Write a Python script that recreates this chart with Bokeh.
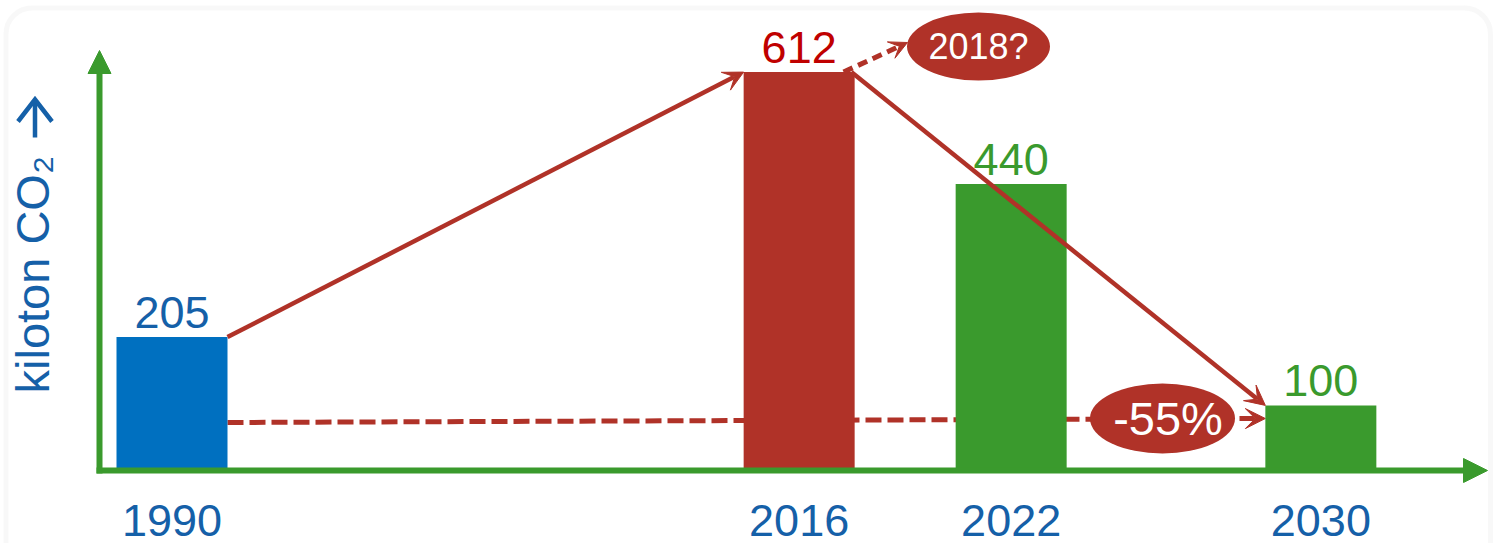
import math
from bokeh.plotting import figure
from bokeh.models import Range1d, Arrow, NormalHead, VeeHead, BoxAnnotation
from bokeh.core.properties import value
from bokeh.embed import file_html
from bokeh.resources import INLINE

# ---------------- data ----------------
years = ["1990", "2016", "2022", "2030"]
emissions = [205, 612, 440, 100]
bar_colors = ["#0070C0", "#B03228", "#3A9A2D", "#3A9A2D"]
value_colors = ["#1560A8", "#C00000", "#3A9A2D", "#3A9A2D"]
reduction_label = "-55%"
question_label = "2018?"
y_title = "kiloton CO\u2082"

# ---------------- layout ----------------
slots = [0.0, 5.65, 7.56, 10.35]      # horizontal bar slots (bar width = 1)
BAR_W = 1.0
W, H = 1493, 543
PX_SLOT = 111.0                        # pixels per slot
PX_UNIT = 0.651                        # pixels per kiloton
ORIG_X, ORIG_Y = 171.5, 470.0          # page position of (slot 0, value 0)
PAGE_OFF = 0.0
BASE_FIX = 0.4                         # em shift of the alphabetic baseline in rendering

def dx(px):   # page px -> slot units
    return (px - ORIG_X) / PX_SLOT

def dy(py):   # page px -> kiloton units
    return (ORIG_Y - py) / PX_UNIT

BLUE = "#1560A8"
RED = "#B03228"
GREEN = "#3A9A2D"
FONT = value("Liberation Sans")

p = figure(width=W, height=H,
           x_range=Range1d(dx(PAGE_OFF), dx(PAGE_OFF + W)),
           y_range=Range1d(dy(PAGE_OFF + H), dy(PAGE_OFF)),
           output_backend="svg", toolbar_location=None,
           x_axis_location=None, y_axis_location=None, min_border=0)
p.xgrid.visible = False
p.ygrid.visible = False
p.outline_line_color = None
p.background_fill_color = "white"
p.border_fill_color = "white"

# rounded border box
p.add_layout(BoxAnnotation(left=dx(5.5), right=dx(1490), top=dy(7.5), bottom=dy(570),
                           fill_alpha=0, line_color="#E8E9E8", line_width=5,
                           border_radius=26, level="underlay"))

half = BAR_W / 2

# reduction dashed arrow (behind bars and bubble)
p.add_layout(Arrow(x_start=slots[0] + half, y_start=dy(422),
                   x_end=slots[3] - half, y_end=dy(418),
                   line_color=RED, line_width=5, line_dash="16 6", level="underlay",
                   end=VeeHead(size=20, fill_color=RED, line_color=RED, line_width=1)))

# bars
p.vbar(x=slots, top=emissions, bottom=0, width=BAR_W, fill_color=bar_colors, line_color=None)

# value labels
p.text(x=slots, y=emissions, text=[str(v) for v in emissions], text_align="center",
       text_baseline="alphabetic", y_offset=-7 - BASE_FIX * 45, text_font=FONT,
       text_font_size="45px", text_color=value_colors)

# year labels
p.text(x=slots, y=[0] * len(slots), text=years, text_align="center",
       text_baseline="alphabetic", y_offset=68 - BASE_FIX * 45, text_font=FONT,
       text_font_size="45px", text_color=BLUE)

# y title (rotated) + drawn arrow
p.text(x=[dx(52 - BASE_FIX * 50)], y=[dy(393)], text=[y_title], angle=math.pi / 2,
       text_align="left", text_baseline="alphabetic", text_font=FONT,
       text_font_size="47px", text_color=BLUE)
ax_c = 34.5
p.multi_line(xs=[[dx(ax_c), dx(ax_c)], [dx(ax_c - 17), dx(ax_c), dx(ax_c + 17)]],
             ys=[[dy(137), dy(100)], [dy(121), dy(99), dy(121)]],
             line_color=BLUE, line_width=4.5, line_join="miter")

# axes with arrows
p.add_layout(Arrow(x_start=dx(96), y_start=0, x_end=dx(1487), y_end=0,
                   line_color=GREEN, line_width=6,
                   end=NormalHead(size=24, fill_color=GREEN, line_color=GREEN, line_width=1)))
p.add_layout(Arrow(x_start=dx(99), y_start=dy(473), x_end=dx(99), y_end=dy(50),
                   line_color=GREEN, line_width=6,
                   end=NormalHead(size=23, fill_color=GREEN, line_color=GREEN, line_width=1)))

# trend arrows
p.add_layout(Arrow(x_start=slots[0] + half, y_start=emissions[0],
                   x_end=slots[1] - half, y_end=emissions[1],
                   line_color=RED, line_width=4.5,
                   end=VeeHead(size=20, fill_color=RED, line_color=RED, line_width=1)))
p.add_layout(Arrow(x_start=slots[1] + half - 0.03, y_start=emissions[1],
                   x_end=slots[3] - half, y_end=emissions[3],
                   line_color=RED, line_width=4.5,
                   end=VeeHead(size=20, fill_color=RED, line_color=RED, line_width=1)))

# 2018? dashed arrow
q_cx, q_cy = dx(978), dy(46)
p.add_layout(Arrow(x_start=slots[1] + 0.4, y_start=emissions[1],
                   x_end=dx(907), y_end=dy(42),
                   line_color=RED, line_width=5, line_dash="10 6",
                   end=VeeHead(size=18, fill_color=RED, line_color=RED, line_width=1)))

# bubbles
r_cx, r_cy = dx(1162), dy(418)
p.ellipse(x=[q_cx, r_cx], y=[q_cy, r_cy], width=[143, 145], height=[68, 70],
          width_units="screen", height_units="screen", fill_color=RED, line_color=None)
p.text(x=[q_cx], y=[q_cy], text=[question_label], text_align="center", text_baseline="middle",
       text_font=FONT, text_font_size="36px", text_color="white")
p.text(x=[r_cx + 0.05], y=[r_cy], text=[reduction_label], text_align="center", text_baseline="middle",
       text_font=FONT, text_font_size="47px", text_color="white")

open("out.html", "w").write(file_html(p, INLINE))
